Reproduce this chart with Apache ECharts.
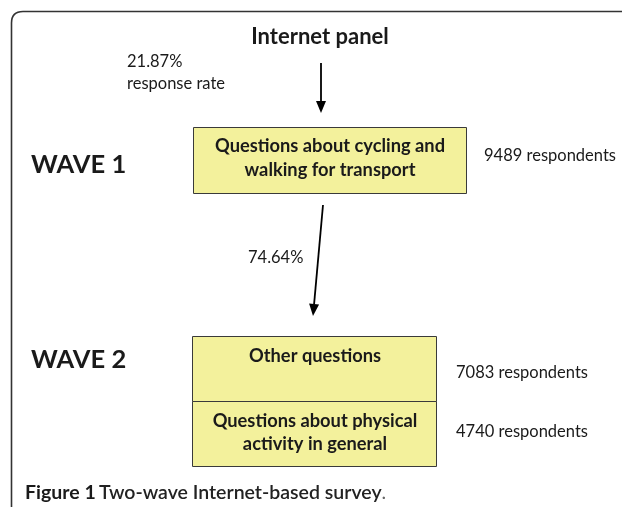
<!DOCTYPE html>
<html><head><meta charset="utf-8">
<script src="https://cdn.jsdelivr.net/npm/echarts@6/dist/echarts.min.js"></script>
<style>html,body{margin:0;padding:0;background:#fff}#c{width:622px;height:507px}</style>
</head><body><div id="c"></div>
<script>
// ---- data ----
const sourceLabel = 'Internet panel';
const responseRate = '21.87%';
const responseRateLabel = 'response rate';
const waveLabels = ['WAVE 1', 'WAVE 2'];
const wave1Box = ['Questions about cycling and', 'walking for transport'];
const wave1Respondents = 9489;
const retentionRate = '74.64%';
const wave2Boxes = [['Other questions'], ['Questions about physical', 'activity in general']];
const wave2Respondents = [7083, 4740];
const captionLead = 'Figure 1';
const captionText = 'Two-wave Internet-based survey';

// ---- layout ----
const FONT = 'Lato';
const ink = '#1a1a1a';
const boxFill = '#f3f19c';
const boxStroke = '#3a3a3a';

function arrow(x1, y1, x2, y2) {
  const ang = Math.atan2(y2 - y1, x2 - x1);
  const L = 12, W = 5;
  const bx = x2 - L * Math.cos(ang), by = y2 - L * Math.sin(ang);
  const px = -Math.sin(ang) * W, py = Math.cos(ang) * W;
  return [
    {type: 'line', shape: {x1, y1, x2: bx, y2: by}, style: {stroke: '#000', lineWidth: 1.8}},
    {type: 'polygon', shape: {points: [[x2, y2], [bx + px, by + py], [bx - px, by - py]]}, style: {fill: '#000'}}
  ];
}
function txt(t, x, y, size, weight, align, color) {
  return {type: 'text', x, y, style: {text: t, font: (weight || 'normal') + ' ' + size + 'px ' + FONT,
    fill: color || ink, textAlign: align || 'left', textVerticalAlign: 'middle'}};
}

const els = [];
// frame
const frameStyle = {stroke: '#333', lineWidth: 1.6, fill: null};
els.push({type: 'line', shape: {x1: 11.5, y1: 507, x2: 11.5, y2: 23}, style: frameStyle});
els.push({type: 'bezierCurve', shape: {x1: 11.5, y1: 23, cpx1: 11.5, cpy1: 11.5, x2: 23, y2: 11.5}, style: frameStyle});
els.push({type: 'line', shape: {x1: 23, y1: 11.5, x2: 622, y2: 11.5}, style: frameStyle});
els.push(txt(sourceLabel, 320, 37, 22, 'bold', 'center'));
els.push(txt(responseRate, 127, 62, 16.5, 'normal'));
els.push(txt(responseRateLabel, 127, 84, 16.5, 'normal'));
els.push(...arrow(321, 63, 321, 113));
// wave 1 box
els.push({type: 'rect', shape: {x: 193.5, y: 127.5, width: 273, height: 66}, style: {fill: boxFill, stroke: boxStroke, lineWidth: 1}});
wave1Box.forEach((t, i) => els.push(txt(t, 330, 146 + i * 24, 18.3, 'bold', 'center')));
els.push(txt(wave1Respondents + ' respondents', 484, 156, 16.5, 'normal'));
els.push(txt(waveLabels[0], 31, 165, 25.5, 'bold'));
els.push(...arrow(323, 205, 313, 316));
els.push(txt(retentionRate, 248, 258, 16.5, 'normal'));
// wave 2 boxes
els.push(txt(waveLabels[1], 31, 360, 25.5, 'bold'));
els.push({type: 'rect', shape: {x: 192.5, y: 336.5, width: 244, height: 65}, style: {fill: boxFill, stroke: boxStroke, lineWidth: 1}});
els.push({type: 'rect', shape: {x: 192.5, y: 401.5, width: 244, height: 65}, style: {fill: boxFill, stroke: boxStroke, lineWidth: 1}});
const w2TextY = [[356], [421, 444]];
wave2Boxes.forEach((lines, b) => lines.forEach((t, i) => els.push(txt(t, 315, w2TextY[b][i], 18.3, 'bold', 'center'))));
const w2RespY = [373, 432];
wave2Respondents.forEach((n, i) => els.push(txt(n + ' respondents', 456, w2RespY[i], 16.5, 'normal')));
// caption
els.push({type: 'text', x: 25, y: 493, style: {
  text: '{b|' + captionLead + '} {r|' + captionText + '}{p|.}',
  textVerticalAlign: 'middle',
  rich: {
    b: {font: 'bold 19.5px ' + FONT, fill: ink},
    r: {font: '600 19.5px ' + FONT, fill: '#222'},
    p: {font: 'normal 19.5px ' + FONT, fill: '#666'}
  }}});

const chart = echarts.init(document.getElementById('c'), null, {renderer: 'canvas'});
chart.setOption({animation: false, backgroundColor: '#fff', graphic: {elements: els}});
</script></body></html>
